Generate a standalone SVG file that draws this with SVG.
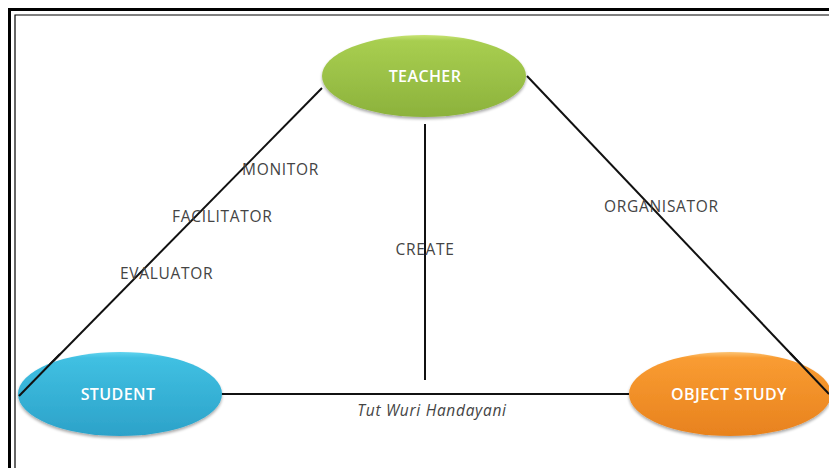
<svg xmlns="http://www.w3.org/2000/svg" width="829" height="468" viewBox="0 0 829 468">
  <defs>
    <linearGradient id="gGreen" x1="0" y1="0" x2="0" y2="1">
      <stop offset="0" stop-color="#c8e474"/>
      <stop offset="0.07" stop-color="#a8ce50"/>
      <stop offset="1" stop-color="#8cb23c"/>
    </linearGradient>
    <linearGradient id="gBlue" x1="0" y1="0" x2="0" y2="1">
      <stop offset="0" stop-color="#62d4ef"/>
      <stop offset="0.07" stop-color="#40c0e2"/>
      <stop offset="1" stop-color="#2ca2c9"/>
    </linearGradient>
    <linearGradient id="gOrange" x1="0" y1="0" x2="0" y2="1">
      <stop offset="0" stop-color="#fcc474"/>
      <stop offset="0.07" stop-color="#f99c32"/>
      <stop offset="1" stop-color="#e8821e"/>
    </linearGradient>
    <filter id="shadow" x="-10%" y="-10%" width="120%" height="130%">
      <feGaussianBlur in="SourceAlpha" stdDeviation="1.5"/>
      <feOffset dy="2" result="b"/>
      <feComponentTransfer><feFuncA type="linear" slope="0.35"/></feComponentTransfer>
      <feMerge><feMergeNode/><feMergeNode in="SourceGraphic"/></feMerge>
    </filter>
  </defs>
  <style>
    .frame { fill: none; stroke: #000; }
    .edge { stroke: #111; stroke-width: 2; fill: none; }
    .lbl { font-family: "Open Sans", "Liberation Sans", sans-serif; font-size: 15.5px; letter-spacing: 0.7px; fill: #444; }
    .node-text { font-family: "Open Sans", "Liberation Sans", sans-serif; font-size: 16px; font-weight: 600; letter-spacing: 0.4px; fill: #fff; text-anchor: middle; }
  </style>
  <rect width="829" height="468" fill="#fff"/>
  <!-- double frame -->
  <path class="frame" d="M9.5 468 V9.5 H829" stroke-width="3"/>
  <path class="frame" d="M15 468 V15 H829" stroke-width="1.2" stroke="#333"/>

  <g id="connectors">
    <line class="edge" x1="322" y1="88" x2="19" y2="396"/>
    <line class="edge" x1="527" y1="76" x2="829" y2="394"/>
    <line class="edge" x1="425" y1="124" x2="425" y2="380"/>
    <line class="edge" x1="221" y1="394" x2="629" y2="394"/>
    <text class="lbl" x="242" y="175">MONITOR</text>
    <text class="lbl" x="172" y="222">FACILITATOR</text>
    <text class="lbl" x="120" y="279">EVALUATOR</text>
    <text class="lbl" x="425" y="255" text-anchor="middle">CREATE</text>
    <text class="lbl" x="604" y="212">ORGANISATOR</text>
    <text class="lbl" x="432" y="416" text-anchor="middle" font-style="italic" letter-spacing="1.5">Tut Wuri Handayani</text>
  </g>

  <g id="teacher">
    <ellipse cx="424" cy="76" rx="102" ry="41" fill="url(#gGreen)" filter="url(#shadow)"/>
    <text class="node-text" x="425" y="82">TEACHER</text>
  </g>
  <g id="student">
    <ellipse cx="120" cy="394" rx="102" ry="42" fill="url(#gBlue)" filter="url(#shadow)"/>
    <text class="node-text" x="118" y="400">STUDENT</text>
  </g>
  <g id="object-study">
    <ellipse cx="730" cy="394" rx="101" ry="42" fill="url(#gOrange)" filter="url(#shadow)"/>
    <text class="node-text" x="729" y="400">OBJECT STUDY</text>
  </g>
  <!-- side lines pass over the node edges -->
  <g id="connectors-over">
    <line class="edge" x1="60" y1="354" x2="19" y2="396"/>
    <line class="edge" x1="790" y1="353" x2="829" y2="394"/>
  </g>
</svg>
